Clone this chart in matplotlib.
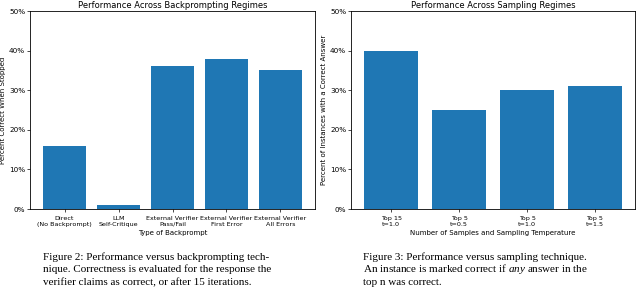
import matplotlib
matplotlib.use("Agg")
import matplotlib.pyplot as plt
from matplotlib.ticker import PercentFormatter

plt.rcParams["mathtext.fontset"] = "custom"
plt.rcParams["mathtext.it"] = "Liberation Serif:italic"
plt.rcParams["mathtext.rm"] = "Liberation Serif"

# data
backprompt_labels = ["Direct\n(No Backprompt)", "LLM\nSelf-Critique",
                     "External Verifier\nPass/Fail", "External Verifier\nFirst Error",
                     "External Verifier\nAll Errors"]
backprompt_values = [16, 1, 36, 38, 35]

sampling_labels = ["Top 15\nt=1.0", "Top 5\nt=0.5", "Top 5\nt=1.0", "Top 5\nt=1.5"]
sampling_values = [40, 25, 30, 31]

caption_left = ["Figure 2: Performance versus backprompting tech-",
                "nique. Correctness is evaluated for the response the",
                "verifier claims as correct, or after 15 iterations."]
caption_right = ["Figure 3: Performance versus sampling technique.",
                 "An instance is marked correct if $\\it{any}$ answer in the",
                 "top n was correct."]

W, H = 640, 288
fig = plt.figure(figsize=(W / 100, H / 100), dpi=100)

def px_axes(x0, x1, ytop, ybot):
    return fig.add_axes([x0 / W, 1 - ybot / H, (x1 - x0) / W, (ybot - ytop) / H])

def bar_panel(ax, labels, values, title, xlabel, ylabel):
    ax.bar(range(len(values)), values, color="#1f77b4")
    ax.set_ylim(0, 50)
    ax.set_yticks([0, 10, 20, 30, 40, 50])
    ax.yaxis.set_major_formatter(PercentFormatter(100, decimals=0))
    ax.set_xticks(range(len(labels)))
    ax.set_xticklabels(labels, fontsize=4.6, linespacing=1.2)
    ax.tick_params(axis="y", labelsize=5.2, length=2, pad=1.5, width=0.5)
    ax.tick_params(axis="x", length=2, pad=3, width=0.5)
    ax.set_title(title, fontsize=6, pad=2)
    ax.set_xlabel(xlabel, fontsize=5, labelpad=2.5)
    ax.set_ylabel(ylabel, fontsize=5, labelpad=2)
    for s in ax.spines.values():
        s.set_linewidth(0.6)

ax1 = px_axes(30, 315, 11, 209)
bar_panel(ax1, backprompt_labels, backprompt_values,
          "Performance Across Backprompting Regimes",
          "Type of Backprompt", "Percent Correct When Stopped")

ax2 = px_axes(351, 635, 11, 209)
bar_panel(ax2, sampling_labels, sampling_values,
          "Performance Across Sampling Regimes",
          "Number of Samples and Sampling Temperature",
          "Percent of Instances with a Correct Answer")

# captions, one text per line so both columns share the same line spacing
cap_font = dict(fontsize=8, family="Liberation Serif", va="baseline", ha="left")
for i, (l, r) in enumerate(zip(caption_left, caption_right)):
    y = 1 - (260 + 12.5 * i) / H
    fig.text(43 / W, y, l, **cap_font)
    fig.text(363 / W, y, r, **cap_font)

fig.savefig("out.png", dpi=100)
